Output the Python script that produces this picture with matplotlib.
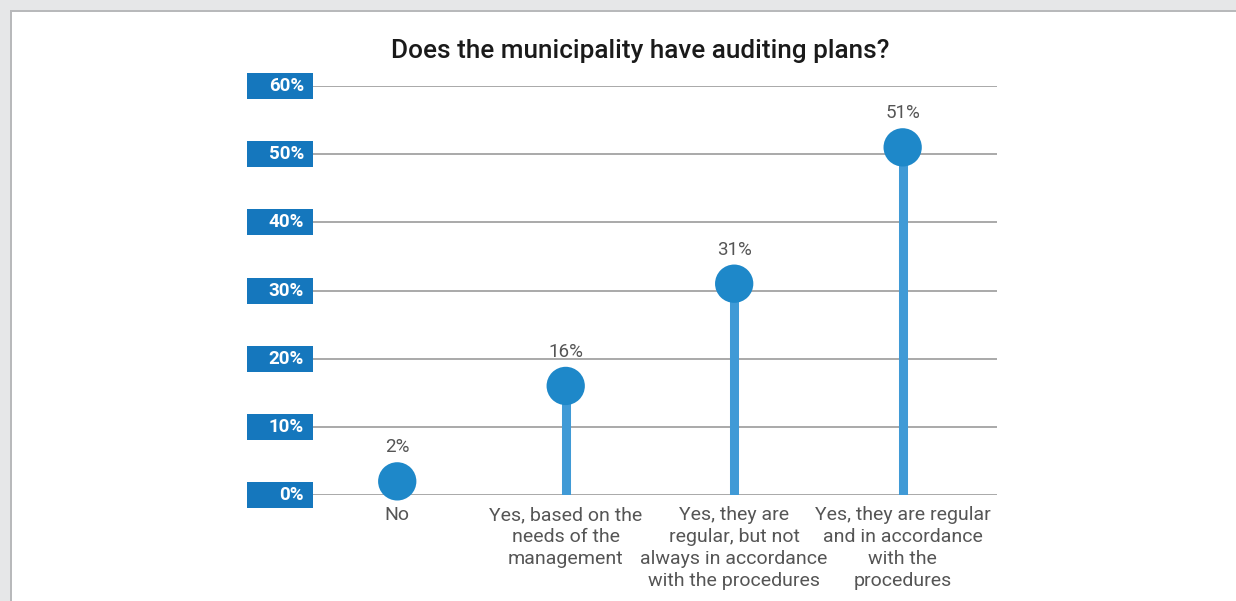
import matplotlib
matplotlib.use("Agg")
import matplotlib.pyplot as plt
from matplotlib.patches import Rectangle
from matplotlib.transforms import blended_transform_factory

plt.rcParams['font.family'] = ['Roboto', 'DejaVu Sans']

# Data
categories = [
    "No",
    "Yes, based on the\nneeds of the\nmanagement",
    "Yes, they are\nregular, but not\nalways in accordance\nwith the procedures",
    "Yes, they are regular\nand in accordance\nwith the\nprocedures",
]
values = [2, 16, 31, 51]
value_labels = ["2%", "16%", "31%", "51%"]
y_ticks = [0, 10, 20, 30, 40, 50, 60]
y_tick_labels = ["0%", "10%", "20%", "30%", "40%", "50%", "60%"]
title = "Does the municipality have auditing plans?"

W, H = 1236, 601
fig = plt.figure(figsize=(W / 100, H / 100), dpi=100)
fig.patch.set_facecolor("white")

# Page frame: light gray band along top and left edges
fig.patches.append(Rectangle((0, 1 - 10 / H), 1, 10 / H, transform=fig.transFigure,
                             facecolor="#e6e7e8", edgecolor="none", zorder=0))
fig.patches.append(Rectangle((0, 0), 10 / W, 1, transform=fig.transFigure,
                             facecolor="#e6e7e8", edgecolor="none", zorder=0))
fig.patches.append(Rectangle((10 / W, 1 - 12 / H), 1, 2 / H, transform=fig.transFigure,
                             facecolor="#b8b9bb", edgecolor="none", zorder=1))
fig.patches.append(Rectangle((10 / W, 0), 2 / W, 1 - 10 / H, transform=fig.transFigure,
                             facecolor="#b8b9bb", edgecolor="none", zorder=1))

left_px, right_px = 313, 997
top_px, bottom_px = 86, 495
ax = fig.add_axes([left_px / W, 1 - bottom_px / H,
                   (right_px - left_px) / W, (bottom_px - top_px) / H])
ax.set_facecolor("none")
ax.set_ylim(0, 60)
ax.set_xlim(-0.5, 3.56)
for s in ax.spines.values():
    s.set_visible(False)
ax.set_xticks([])
ax.set_yticks([])

# Horizontal gridlines
for t in y_ticks:
    ax.axhline(t, color="#a9a9a9", lw=1.4, zorder=1)

# Y tick labels in blue boxes
trans = blended_transform_factory(ax.transAxes, ax.transData)
px_per_unit = (bottom_px - top_px) / 60.0
box_h = 26 / px_per_unit
box_x0 = (247 - left_px) / (right_px - left_px)
box_w = 66 / (right_px - left_px)
for t, lab in zip(y_ticks, y_tick_labels):
    ax.add_patch(Rectangle((box_x0, t - box_h / 2), box_w, box_h, transform=trans,
                           facecolor="#1577bd", edgecolor="none", clip_on=False, zorder=3))
    ax.text(box_x0 + box_w - 9 / (right_px - left_px), t, lab, transform=trans,
            ha="right", va="center", color="white", fontsize=13.5,
            fontweight="bold", zorder=4, clip_on=False)

# Lollipops
x = list(range(len(values)))
ax.vlines(x, 0, values, color="#409ad6", lw=6.5, zorder=2)
ax.scatter(x, values, s=760, color="#1e88c9", edgecolors="none", zorder=5, clip_on=False)

for xi, v, lab in zip(x, values, value_labels):
    ax.annotate(lab, (xi, v), xytext=(0, 18), textcoords="offset points",
                ha="center", va="bottom", color="#555555", fontsize=13.5)

# Category labels under the axis
for xi, cat in zip(x, categories):
    ax.annotate(cat, (xi, 0), xytext=(0, -8), textcoords="offset points",
                ha="center", va="top", color="#555555", fontsize=14,
                linespacing=1.28, annotation_clip=False)

fig.text(640 / W, 1 - 51 / H, title, ha="center", va="center",
         fontsize=18.8, color="#1a1a1a", fontweight="medium")

fig.savefig("out.png", dpi=100)
